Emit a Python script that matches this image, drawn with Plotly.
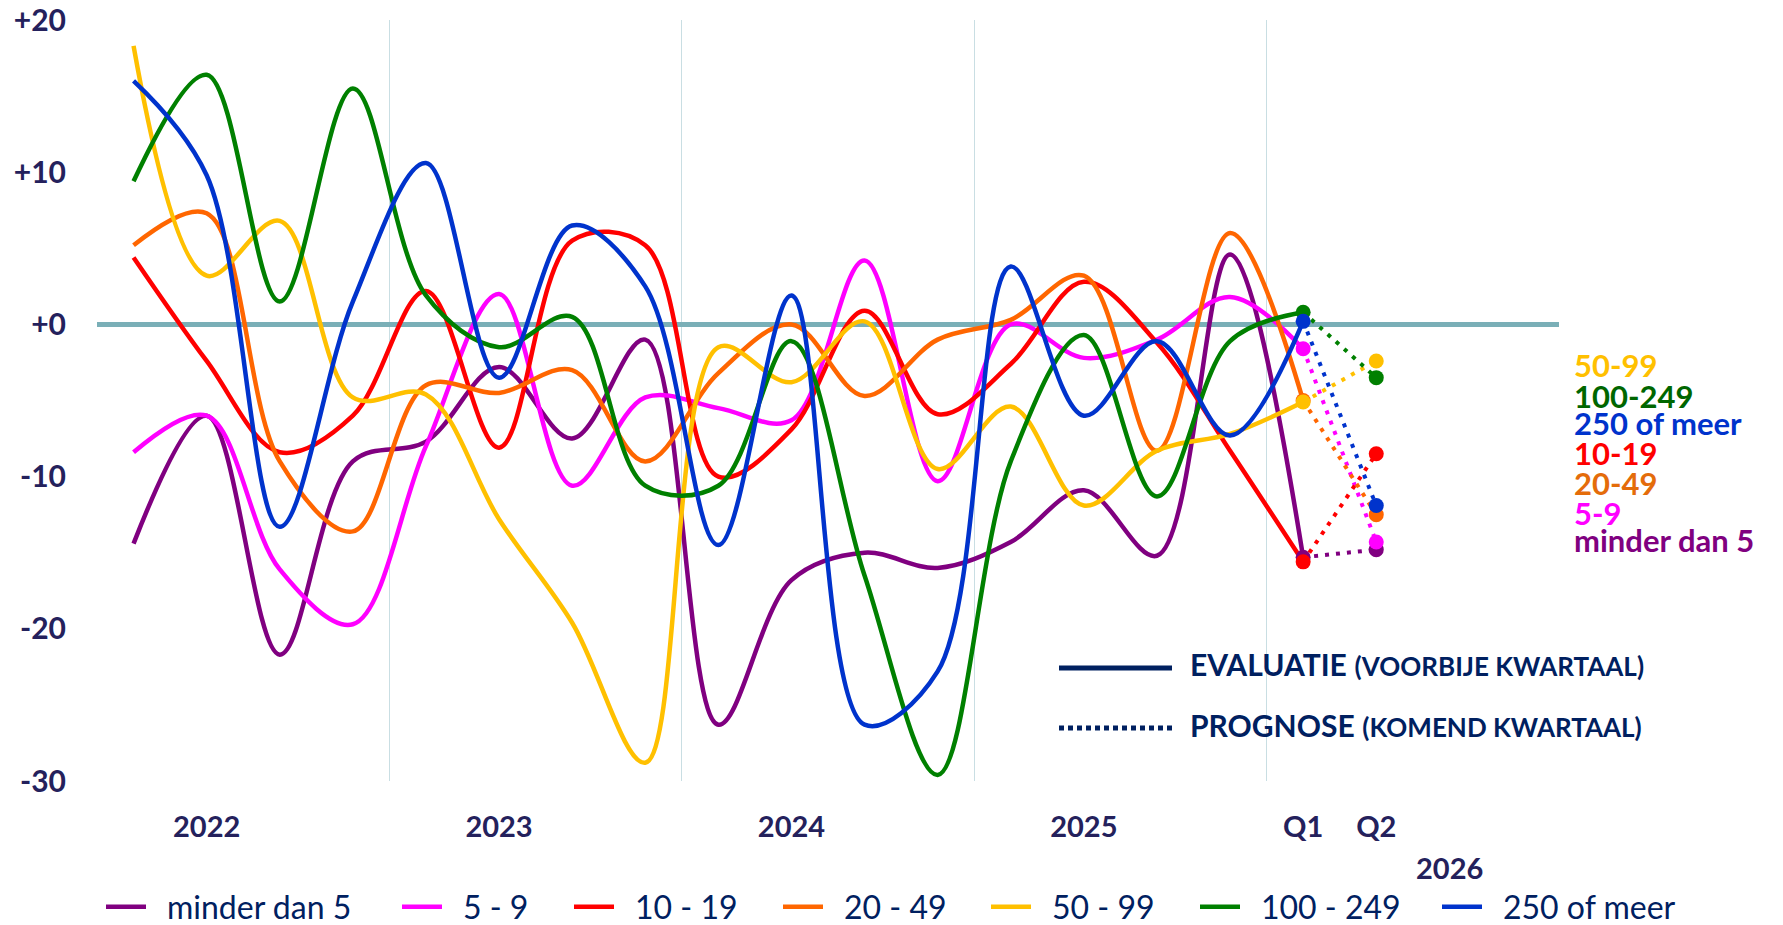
import plotly.graph_objects as go

# kwartalen: 0 = 2022 Q1 ... 16 = 2026 Q1, 17 = 2026 Q2 (prognose)
kwartalen = list(range(17))
prognose_x = [16, 17]

namen = ['minder dan 5', '5 - 9', '10 - 19', '20 - 49', '50 - 99', '100 - 249', '250 of meer']
kleuren = ['#800080', '#FF00FF', '#FF0000', '#FF6600', '#FFC000', '#008000', '#0033CC']

minder_dan_5 = [-14.4, -6.0, -21.7, -9.0, -7.7, -2.8, -7.5, -1.0, -26.3, -16.8, -15.0, -16.0, -14.3, -10.9, -15.2, 4.6, -15.3]
w_5_9 = [-8.4, -6.0, -16.1, -19.7, -8.0, 2.0, -10.6, -4.8, -5.5, -6.3, 4.2, -10.3, 0.0, -2.2, -1.0, 1.8, -1.6]
w_10_19 = [4.4, -2.4, -8.4, -6.0, 2.2, -8.1, 5.5, 5.2, -10.0, -6.9, 0.9, -5.9, -2.6, 2.8, -1.2, -8.3, -15.6]
w_20_49 = [5.2, 7.3, -9.0, -13.6, -4.0, -4.5, -3.0, -9.0, -3.2, 0.0, -4.7, -1.0, 0.3, 3.2, -8.3, 6.0, -5.0]
w_50_99 = [18.3, 3.2, 6.8, -4.8, -4.6, -12.8, -19.6, -28.8, -1.5, -3.8, 0.2, -9.5, -5.4, -11.9, -8.3, -7.2, -5.1]
w_100_249 = [9.4, 16.4, 1.5, 15.5, 1.9, -1.5, 0.5, -10.6, -10.6, -1.1, -16.5, -29.6, -9.0, -0.7, -11.3, -1.1, 0.8]
w_250_meer = [16.0, 9.8, -13.3, 1.5, 10.6, -3.5, 6.5, 2.5, -14.5, 1.9, -26.3, -22.8, 3.8, -6.0, -1.1, -7.3, 0.2]

# prognose voor 2026 Q2
prognose_q2 = [-14.8, -14.3, -8.5, -12.5, -2.4, -3.5, -11.9]

reeksen = [minder_dan_5, w_5_9, w_10_19, w_20_49, w_50_99, w_100_249, w_250_meer]

x_tickvals = [1, 5, 9, 13, 16, 17]
x_ticktext = ['2022', '2023', '2024', '2025', 'Q1', 'Q2']
jaargrenzen = [-0.5, 3.5, 7.5, 11.5, 15.5, 19.5]

y_tickvals = [20, 10, 0, -10, -20, -30]
y_ticktext = ['+20', '+10', '+0', '-10', '-20', '-30']

# labels rechts (volgorde van boven naar onder)
labels_rechts = ['50-99', '100-249', '250 of meer', '10-19', '20-49', '5-9', 'minder dan 5']
labels_kleur = ['#FFC000', '#006600', '#0033CC', '#FF0000', '#E46C0A', '#FF00FF', '#800080']

NAVY = '#002060'
AS_KLEUR = '#24215C'
FONT = 'Lato'

fig = go.Figure()

for i, (naam, kleur, y) in enumerate(zip(namen, kleuren, reeksen)):
    fig.add_trace(go.Scatter(
        x=kwartalen, y=y, name='\u2002' + naam, mode='lines',
        line=dict(color=kleur, width=4.5, shape='spline', smoothing=1.0),
        legend='legend' if i == 0 else f'legend{i + 1}',
        hoverinfo='skip'
    ))

for naam, kleur, y, q2 in zip(namen, kleuren, reeksen, prognose_q2):
    fig.add_trace(go.Scatter(
        x=prognose_x, y=[y[-1], q2], mode='lines+markers',
        line=dict(color=kleur, width=4, dash='4px,7px'),
        marker=dict(color=kleur, size=15),
        showlegend=False, hoverinfo='skip'
    ))

fig.update_layout(
    width=1783, height=925,
    margin=dict(l=97, r=224, t=20, b=144, autoexpand=False),
    paper_bgcolor='white', plot_bgcolor='white',
    font=dict(family=FONT, color=AS_KLEUR),
    xaxis=dict(
        range=[-0.5, 19.5], tickvals=x_tickvals, ticktext=x_ticktext,
        showgrid=False, zeroline=False, showline=False, ticks='',
        tickfont=dict(size=29, family=FONT, color=AS_KLEUR, weight='bold'),
        ticklabelstandoff=26,
        minor=dict(tickvals=jaargrenzen, showgrid=True, gridcolor='#C9DEE3', gridwidth=1)
    ),
    yaxis=dict(
        range=[-30, 20], tickvals=y_tickvals, ticktext=y_ticktext,
        showgrid=False, zeroline=True, zerolinecolor='#7AAFB7', zerolinewidth=5,
        showline=False, ticks='',
        tickfont=dict(size=30, family=FONT, color=AS_KLEUR, weight='bold'),
        ticklabelstandoff=30
    ),
)

# legenda onderaan: één legenda per reeks, zodat de posities vastliggen
legenda_start = [106, 402, 574, 783, 991, 1200, 1442]
for i, sx in enumerate(legenda_start):
    key = 'legend' if i == 0 else f'legend{i + 1}'
    fig.update_layout(**{key: dict(
        orientation='h', x=(sx - 5 - 97) / 1462, y=(781 - 907) / 761,
        xanchor='left', yanchor='middle', itemwidth=40,
        font=dict(size=32, family=FONT, color=NAVY),
        bgcolor='rgba(0,0,0,0)'
    )})

# 2026 onder Q1/Q2
fig.add_annotation(x=18, y=(781 - 867) / 761, xref='x', yref='paper',
                   text='<b>2026</b>', showarrow=False, yanchor='middle',
                   font=dict(size=29, family=FONT, color=AS_KLEUR))

# labels rechts van de prognose
label_y = [365, 396, 423, 453, 483, 513, 540]
for txt, kl, yy in zip(labels_rechts, labels_kleur, label_y):
    fig.add_annotation(x=(1572 - 97) / 1462, y=(781 - yy) / 761, xref='paper', yref='paper',
                       text=f'<b>{txt}</b>', showarrow=False, xanchor='left', yanchor='middle',
                       font=dict(size=31, family=FONT, color=kl))

# uitleg lijnstijlen
fig.add_shape(type='line', xref='paper', yref='paper',
              x0=(1059 - 97) / 1462, x1=(1172 - 97) / 1462,
              y0=(781 - 668) / 761, y1=(781 - 668) / 761,
              line=dict(color=NAVY, width=5))
fig.add_shape(type='line', xref='paper', yref='paper',
              x0=(1059 - 97) / 1462, x1=(1172 - 97) / 1462,
              y0=(781 - 728) / 761, y1=(781 - 728) / 761,
              line=dict(color=NAVY, width=5, dash='5px,4px'))
fig.add_annotation(x=(1188 - 97) / 1462, y=(781 - 664) / 761, xref='paper', yref='paper',
                   text="<b>EVALUATIE</b> <span style='font-size:26px'><b>(VOORBIJE KWARTAAL)</b></span>",
                   showarrow=False, xanchor='left', yanchor='middle',
                   font=dict(size=30, family=FONT, color=NAVY))
fig.add_annotation(x=(1188 - 97) / 1462, y=(781 - 725) / 761, xref='paper', yref='paper',
                   text="<b>PROGNOSE</b> <span style='font-size:26px'><b>(KOMEND KWARTAAL)</b></span>",
                   showarrow=False, xanchor='left', yanchor='middle',
                   font=dict(size=30, family=FONT, color=NAVY))

fig.write_html("out.html", config={'displayModeBar': False},
               post_script="document.body.style.margin='0';")
